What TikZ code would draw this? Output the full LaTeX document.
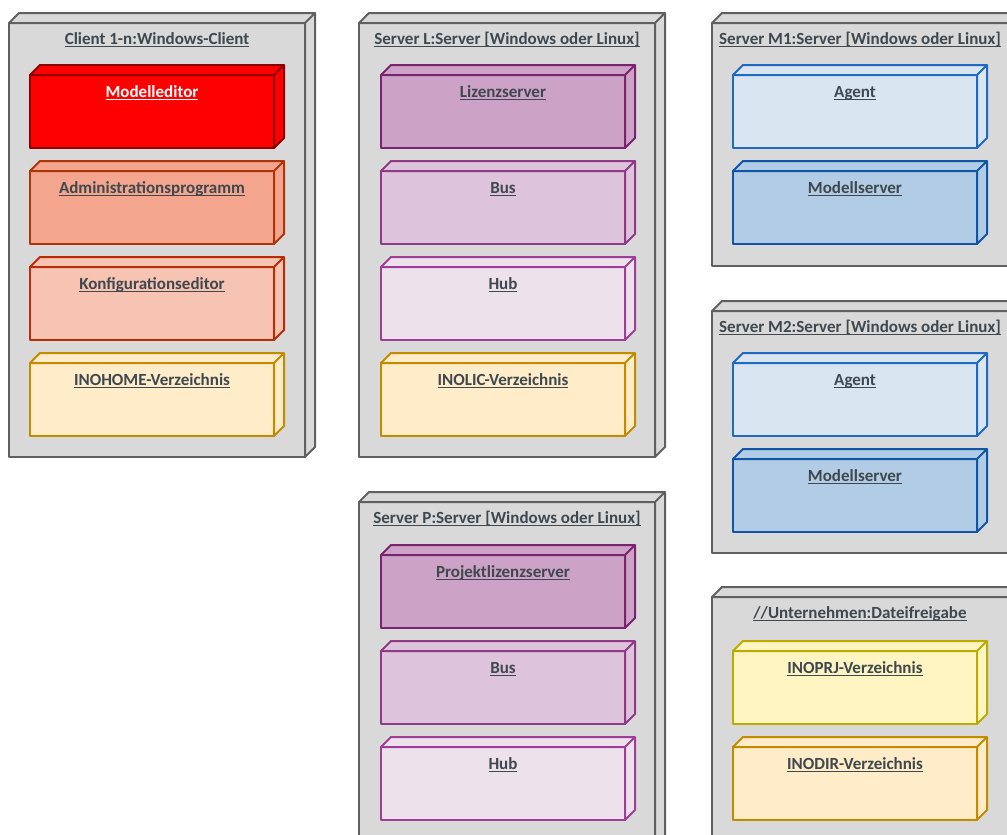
\documentclass[tikz,border=0pt]{standalone}
\usepackage{fontspec}
\setmainfont{Carlito}
\usetikzlibrary{positioning}

\definecolor{contfill}{RGB}{217,217,217}
\definecolor{contline}{RGB}{96,96,96}
\definecolor{labeltext}{RGB}{62,72,78}
\definecolor{meditfill}{RGB}{255,0,0}
\definecolor{meditline}{RGB}{140,0,0}
\definecolor{admfill}{RGB}{243,166,141}
\definecolor{admline}{RGB}{176,52,10}
\definecolor{konffill}{RGB}{247,196,179}
\definecolor{konfline}{RGB}{184,44,8}
\definecolor{dirfill}{RGB}{255,236,200}
\definecolor{dirline}{RGB}{196,138,0}
\definecolor{lizfill}{RGB}{205,162,199}
\definecolor{lizline}{RGB}{122,36,112}
\definecolor{busfill}{RGB}{222,195,220}
\definecolor{busline}{RGB}{142,58,134}
\definecolor{hubfill}{RGB}{237,225,236}
\definecolor{hubline}{RGB}{158,62,150}
\definecolor{agentfill}{RGB}{217,230,242}
\definecolor{agentline}{RGB}{31,106,192}
\definecolor{msrvfill}{RGB}{178,204,229}
\definecolor{msrvline}{RGB}{16,86,166}
\definecolor{prjfill}{RGB}{255,245,194}
\definecolor{prjline}{RGB}{187,170,0}

\newcommand{\ulabel}[1]{\setbox0\hbox{#1}\rlap{\rule[-3pt]{\wd0}{1.2pt}}\box0}

\tikzset{
    device/.style={draw=contline, fill=contfill, line width=2pt, outer sep=0pt,
        anchor=north west, minimum width=296pt},
    devtitle/.style={anchor=base, text=labeltext, font=\bfseries\fontsize{17}{20}\selectfont},
    cube/.style={line width=2pt, outer sep=0pt, anchor=north west, minimum width=244pt,
        minimum height=73pt, inner sep=10pt, text height=12pt, text depth=41pt,
        text=labeltext, font=\bfseries\fontsize{17}{20}\selectfont},
    medit/.style={fill=meditfill, draw=meditline, text=white},
    adm/.style={fill=admfill, draw=admline},
    konf/.style={fill=konffill, draw=konfline},
    dir/.style={fill=dirfill, draw=dirline},
    liz/.style={fill=lizfill, draw=lizline},
    bus/.style={fill=busfill, draw=busline},
    hub/.style={fill=hubfill, draw=hubline},
    agent/.style={fill=agentfill, draw=agentline},
    msrv/.style={fill=msrvfill, draw=msrvline},
    prj/.style={fill=prjfill, draw=prjline}
}

\begin{document}
\begin{tikzpicture}[x=1pt,y=-1pt,line join=round]
    \useasboundingbox (0,0) rectangle (1007,835);

    % nodes (front faces)
    \node[device, minimum height=434pt] (client) at (9,23) {};
    \node[device, minimum height=434pt] (srvl) at (359,23) {};
    \node[device, minimum height=243pt] (srvm1) at (712,23) {};
    \node[device, minimum height=242pt] (srvm2) at (712,311) {};
    \node[device, minimum height=345pt] (srvp) at (359,502) {};
    \node[device, minimum height=250pt] (share) at (712,597) {};

    % 3d depth of the nodes
    \foreach \n in {client,srvl,srvm1,srvm2,srvp,share}
        \draw[draw=contline, fill=contfill, line width=2pt]
            (\n.north west) -- ++(10,-10) -- ([shift={(10,-10)}]\n.north east)
            -- ([shift={(10,-10)}]\n.south east) -- (\n.south east) -- (\n.north east) -- cycle
            (\n.north east) -- ++(10,-10);

    \node[devtitle] (clientt) at ([yshift=-21pt]client.north) {\ulabel{Client 1-n:Windows-Client}};
    \node[devtitle] (srvlt) at ([yshift=-21pt]srvl.north) {\ulabel{Server L:Server [Windows oder Linux]}};
    \node[devtitle] (srvm1t) at ([yshift=-21pt]srvm1.north) {\ulabel{Server M1:Server [Windows oder Linux]}};
    \node[devtitle] (srvm2t) at ([yshift=-21pt]srvm2.north) {\ulabel{Server M2:Server [Windows oder Linux]}};
    \node[devtitle] (srvpt) at ([yshift=-21pt]srvp.north) {\ulabel{Server P:Server [Windows oder Linux]}};
    \node[devtitle] (sharet) at ([yshift=-21pt]share.north) {\ulabel{//Unternehmen:Dateifreigabe}};

    % components
    \node[cube, medit] (modelleditor) at (30,75) {\ulabel{Modelleditor}};
    \node[cube, adm] (admin) at (30,171) {\ulabel{Administrationsprogramm}};
    \node[cube, konf] (konfig) at (30,267) {\ulabel{Konfigurationseditor}};
    \node[cube, dir] (inohome) at (30,363) {\ulabel{INOHOME-Verzeichnis}};

    \node[cube, liz] (lizenz) at (381,75) {\ulabel{Lizenzserver}};
    \node[cube, bus] (busl) at (381,171) {\ulabel{Bus}};
    \node[cube, hub] (hubl) at (381,267) {\ulabel{Hub}};
    \node[cube, dir] (inolic) at (381,363) {\ulabel{INOLIC-Verzeichnis}};

    \node[cube, agent] (agent1) at (733,75) {\ulabel{Agent}};
    \node[cube, msrv] (modell1) at (733,171) {\ulabel{Modellserver}};
    \node[cube, agent] (agent2) at (733,363) {\ulabel{Agent}};
    \node[cube, msrv] (modell2) at (733,459) {\ulabel{Modellserver}};

    \node[cube, liz] (projlizenz) at (381,555) {\ulabel{Projektlizenzserver}};
    \node[cube, bus] (busp) at (381,651) {\ulabel{Bus}};
    \node[cube, hub] (hubp) at (381,747) {\ulabel{Hub}};

    \node[cube, prj] (inoprj) at (733,651) {\ulabel{INOPRJ-Verzeichnis}};
    \node[cube, dir] (inodir) at (733,747) {\ulabel{INODIR-Verzeichnis}};

    % 3d depth of the components
    \foreach \n/\f/\l in {modelleditor/meditfill/meditline, admin/admfill/admline,
            konfig/konffill/konfline, inohome/dirfill/dirline, lizenz/lizfill/lizline,
            busl/busfill/busline, hubl/hubfill/hubline, inolic/dirfill/dirline,
            agent1/agentfill/agentline, modell1/msrvfill/msrvline,
            agent2/agentfill/agentline, modell2/msrvfill/msrvline,
            projlizenz/lizfill/lizline, busp/busfill/busline, hubp/hubfill/hubline,
            inoprj/prjfill/prjline, inodir/dirfill/dirline}
        \draw[draw=\l, fill=\f, line width=2pt]
            (\n.north west) -- ++(10,-10) -- ([shift={(10,-10)}]\n.north east)
            -- ([shift={(10,-10)}]\n.south east) -- (\n.south east) -- (\n.north east) -- cycle
            (\n.north east) -- ++(10,-10);
\end{tikzpicture}
\end{document}
